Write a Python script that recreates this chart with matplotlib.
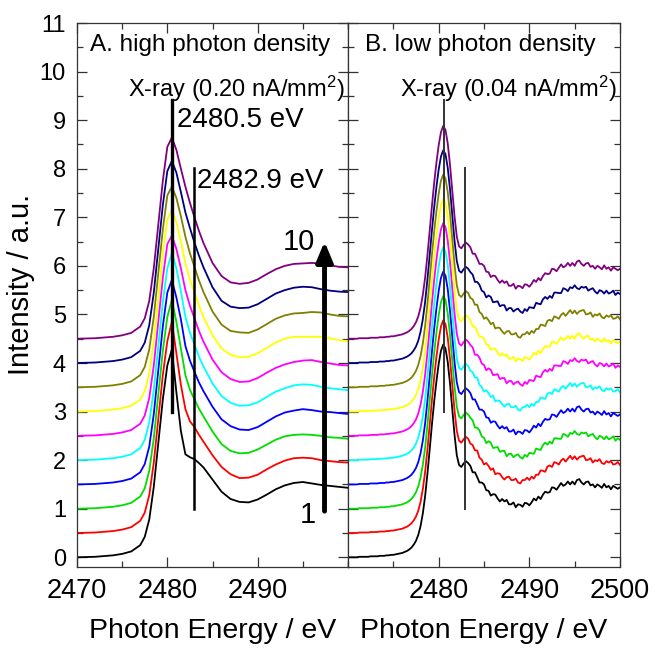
import numpy as np
import matplotlib
matplotlib.use("Agg")
import matplotlib.pyplot as plt
from matplotlib.ticker import MultipleLocator

plt.rcParams['font.family'] = ['Liberation Sans', 'DejaVu Sans']
plt.rcParams['mathtext.default'] = 'regular'

# ---- data -------------------------------------------------------------
colors = ['#000000', '#ff0000', '#00dd00', '#0000ff', '#00ffff',
          '#ff00ff', '#ffff00', '#808000', '#000080', '#800080']
offsets = [0.0, 0.5, 1.0, 1.5, 2.0, 2.5, 3.0, 3.5, 4.0, 4.5]

# A. high photon density (smooth spectra, peak broadens with dose)
energy_left = [2470, 2472, 2474, 2475, 2476, 2477, 2477.5, 2478, 2478.5, 2479,
               2479.5, 2480, 2480.5, 2481, 2481.5, 2482, 2482.5, 2483, 2483.5,
               2484, 2485, 2486, 2487, 2488, 2489, 2490, 2491, 2492, 2493,
               2494, 2495, 2496, 2497, 2498, 2499, 2500]
left_edge = [0.00, 0.01, 0.04, 0.07, 0.12, 0.25, 0.42, 0.78, 1.45, 2.35, 3.25, 3.95]
left_tail = [
    [4.28, 3.40, 2.60, 2.12, 2.06, 2.02, 1.94, 1.85, 1.60, 1.35, 1.20, 1.14, 1.13, 1.19, 1.29, 1.40, 1.48, 1.53, 1.55, 1.52, 1.49, 1.47, 1.45, 1.43],
    [4.35, 3.70, 3.05, 2.55, 2.30, 2.18, 2.02, 1.88, 1.60, 1.36, 1.21, 1.13, 1.14, 1.20, 1.31, 1.41, 1.49, 1.54, 1.55, 1.54, 1.50, 1.48, 1.46, 1.45],
    [4.30, 3.85, 3.30, 2.75, 2.45, 2.25, 2.06, 1.90, 1.59, 1.33, 1.19, 1.14, 1.15, 1.22, 1.32, 1.42, 1.49, 1.52, 1.53, 1.52, 1.50, 1.47, 1.46, 1.44],
    [4.21, 3.85, 3.40, 2.85, 2.55, 2.32, 2.10, 1.92, 1.60, 1.34, 1.20, 1.13, 1.12, 1.18, 1.29, 1.40, 1.48, 1.52, 1.55, 1.53, 1.50, 1.49, 1.47, 1.45],
    [4.27, 3.95, 3.48, 2.95, 2.62, 2.38, 2.13, 1.93, 1.58, 1.32, 1.18, 1.12, 1.13, 1.19, 1.30, 1.41, 1.48, 1.54, 1.56, 1.55, 1.51, 1.48, 1.46, 1.44],
    [4.12, 3.85, 3.45, 3.00, 2.68, 2.42, 2.16, 1.94, 1.57, 1.31, 1.17, 1.11, 1.12, 1.19, 1.30, 1.40, 1.47, 1.52, 1.55, 1.56, 1.52, 1.49, 1.46, 1.45],
    [4.15, 3.90, 3.50, 3.05, 2.72, 2.45, 2.18, 1.95, 1.57, 1.30, 1.17, 1.12, 1.13, 1.20, 1.31, 1.42, 1.50, 1.54, 1.54, 1.54, 1.54, 1.51, 1.47, 1.45],
    [4.13, 3.90, 3.52, 3.10, 2.76, 2.48, 2.20, 1.96, 1.56, 1.29, 1.16, 1.13, 1.12, 1.19, 1.30, 1.41, 1.48, 1.52, 1.53, 1.55, 1.54, 1.50, 1.47, 1.46],
    [4.16, 3.92, 3.52, 3.10, 2.78, 2.48, 2.21, 1.97, 1.56, 1.28, 1.16, 1.13, 1.14, 1.21, 1.32, 1.43, 1.50, 1.55, 1.57, 1.56, 1.52, 1.49, 1.47, 1.46],
    [4.14, 3.89, 3.50, 3.13, 2.80, 2.50, 2.22, 1.97, 1.56, 1.29, 1.16, 1.13, 1.15, 1.22, 1.33, 1.43, 1.50, 1.54, 1.55, 1.56, 1.55, 1.51, 1.48, 1.47],
]

# B. low photon density (sharp white line, noisy post-edge), 0.25 eV steps
energy_right = np.arange(2470, 2500.001, 0.25)
right_shape = [
    0.00, 0.00, 0.00, 0.00, 0.00, 0.01, 0.01, 0.01, 0.01, 0.01,
    0.02, 0.02, 0.02, 0.02, 0.03, 0.03, 0.03, 0.04, 0.04, 0.05,
    0.05, 0.06, 0.07, 0.08, 0.09, 0.11, 0.13, 0.16, 0.20, 0.26,
    0.34, 0.46, 0.64, 0.90, 1.25, 1.70, 2.20, 2.72, 3.20, 3.62,
    3.98, 4.25, 4.38, 4.30, 4.02, 3.58, 3.05, 2.52, 2.10, 1.90,
    1.86, 1.93, 1.98, 1.94, 1.86, 1.78, 1.71, 1.65, 1.58, 1.51,
    1.45, 1.40, 1.36, 1.32, 1.28, 1.25, 1.22, 1.19, 1.17, 1.15,
    1.13, 1.12, 1.10, 1.09, 1.08, 1.07, 1.07, 1.07, 1.08, 1.09,
    1.11, 1.13, 1.16, 1.19, 1.22, 1.25, 1.28, 1.31, 1.34, 1.37,
    1.39, 1.41, 1.43, 1.45, 1.47, 1.49, 1.50, 1.52, 1.53, 1.54,
    1.55, 1.56, 1.56, 1.55, 1.54, 1.53, 1.52, 1.50, 1.49, 1.48,
    1.47, 1.47, 1.46, 1.46, 1.45, 1.45, 1.44, 1.44, 1.43, 1.43,
    1.42,
]
noise_start = 54  # 2483.5 eV onwards
ripple_a = [0.02, -0.03, 0.04, 0.00, -0.04, 0.03, 0.05, -0.02, 0.01, -0.05,
            0.02, 0.04, -0.01, -0.04, 0.03, 0.00, 0.05, -0.03, -0.01, 0.04,
            -0.05, 0.02, 0.01, -0.03, 0.04, 0.02, -0.04, 0.00, 0.05, -0.02,
            0.03, -0.05, 0.01, 0.04, -0.01, -0.03, 0.05, 0.02, -0.04, 0.01,
            0.06, -0.02, 0.00, 0.04, -0.03, 0.02, -0.05, 0.03, 0.05, -0.01,
            -0.04, 0.02, 0.04, -0.02, 0.01, -0.04, 0.03, 0.00, -0.03, 0.05,
            -0.01, 0.02, -0.04, 0.03, 0.01, -0.02, 0.02]
ripple_b = [-0.02, 0.03, -0.01, 0.05, -0.03, 0.00, -0.04, 0.04, 0.02, -0.02,
            0.05, -0.04, 0.01, 0.03, -0.02, -0.05, 0.02, 0.04, -0.01, 0.00,
            0.04, -0.03, -0.05, 0.02, 0.01, 0.05, -0.02, 0.03, -0.04, 0.01,
            -0.02, 0.04, 0.00, -0.05, 0.03, 0.02, -0.03, 0.05, 0.01, -0.04,
            0.02, 0.04, -0.03, 0.01, 0.06, -0.02, 0.03, -0.05, 0.00, 0.03,
            0.05, -0.03, -0.01, 0.04, -0.04, 0.02, 0.01, 0.05, -0.02, -0.04,
            0.03, 0.00, 0.04, -0.03, -0.01, 0.03, -0.02]
ripple_c = [0.01, 0.04, -0.04, 0.02, 0.03, -0.02, 0.01, -0.05, 0.03, 0.04,
            -0.03, 0.01, 0.05, -0.02, 0.02, 0.04, -0.05, 0.01, 0.03, -0.03,
            0.02, 0.05, -0.01, -0.04, 0.03, -0.02, 0.04, 0.01, -0.03, 0.05,
            0.00, -0.04, 0.03, 0.05, -0.02, 0.01, -0.05, 0.04, 0.02, -0.01,
            -0.03, 0.05, 0.02, -0.04, 0.03, 0.00, 0.05, -0.02, -0.04, 0.02,
            0.01, 0.04, -0.03, 0.02, 0.05, -0.01, -0.04, 0.03, 0.02, -0.03,
            0.04, -0.02, 0.01, 0.05, -0.03, 0.02, 0.00]
ripples = [ripple_a, ripple_b, ripple_c]

# ---- figure -----------------------------------------------------------
fig = plt.figure(figsize=(6.57, 6.5), dpi=100)
axA = fig.add_axes([77 / 657, 83 / 650, 271 / 657, 544 / 650])
axB = fig.add_axes([348 / 657, 83 / 650, 272 / 657, 544 / 650])

for i in range(10):
    yA = np.array(left_edge + left_tail[i]) + offsets[i]
    axA.plot(energy_left, yA, color=colors[i], lw=1.3)
    yB = np.array(right_shape) + offsets[i]
    yB[noise_start:] += np.array(ripples[i % 3])
    axB.plot(energy_right, yB, color=colors[i], lw=1.3)

for ax in (axA, axB):
    ax.set_xlim(2470, 2500)
    ax.set_ylim(-0.2, 11)
    ax.xaxis.set_major_locator(MultipleLocator(10))
    ax.xaxis.set_minor_locator(MultipleLocator(5))
    ax.yaxis.set_major_locator(MultipleLocator(1))
    ax.yaxis.set_minor_locator(MultipleLocator(0.5))
    ax.tick_params(which='both', direction='in', top=True, right=True,
                   width=0.9, color='#333333')
    ax.tick_params(which='major', length=7)
    ax.tick_params(which='minor', length=4)
    ax.tick_params(axis='x', labelsize=19.5, pad=8)
    ax.tick_params(axis='y', labelsize=17, pad=8)
    for s in ax.spines.values():
        s.set_linewidth(0.9)
        s.set_color('#333333')
    ax.set_xlabel('Photon Energy / eV', fontsize=20.5, labelpad=10)

axA.set_xticks([2470, 2480, 2490])
axB.set_xticks([2480, 2490, 2500])
axB.set_yticklabels([])
axA.set_ylabel('Intensity / a.u.', fontsize=21)
axA.yaxis.set_label_coords(-0.155, 0.52)

# panel A annotations
axA.text(2471.4, 10.55, 'A. high photon density', fontsize=17.5, va='center')
axA.text(2499.6, 9.65, 'X-ray (0.20 nA/mm$^2$)', fontsize=17, va='center', ha='right')
axA.plot([2480.5, 2480.5], [3.0, 9.42], color='black', lw=2.4)
axA.plot([2482.9, 2482.9], [1.0, 8.02], color='black', lw=1.8)
axA.text(2481.1, 9.0, '2480.5 eV', fontsize=20, va='center')
axA.text(2483.3, 7.75, '2482.9 eV', fontsize=20, va='center')
axA.annotate('', xy=(2497.4, 6.5), xytext=(2497.4, 0.95),
             arrowprops=dict(arrowstyle='-|>,head_length=0.6,head_width=0.25',
                             lw=3.5, color='black', mutation_scale=20,
                             shrinkA=0, shrinkB=0))
axA.text(2494.6, 6.5, '10', fontsize=21, ha='center', va='center')
axA.text(2495.6, 0.88, '1', fontsize=21, ha='center', va='center')

# panel B annotations
axB.text(2471.9, 10.55, 'B. low photon density', fontsize=17.5, va='center')
axB.text(2499.6, 9.65, 'X-ray (0.04 nA/mm$^2$)', fontsize=17, va='center', ha='right')
axB.plot([2480.6, 2480.6], [3.0, 9.42], color='#333333', lw=1.4)
axB.plot([2482.95, 2482.95], [1.0, 8.02], color='#333333', lw=1.4)

fig.savefig('out.png', dpi=100)
